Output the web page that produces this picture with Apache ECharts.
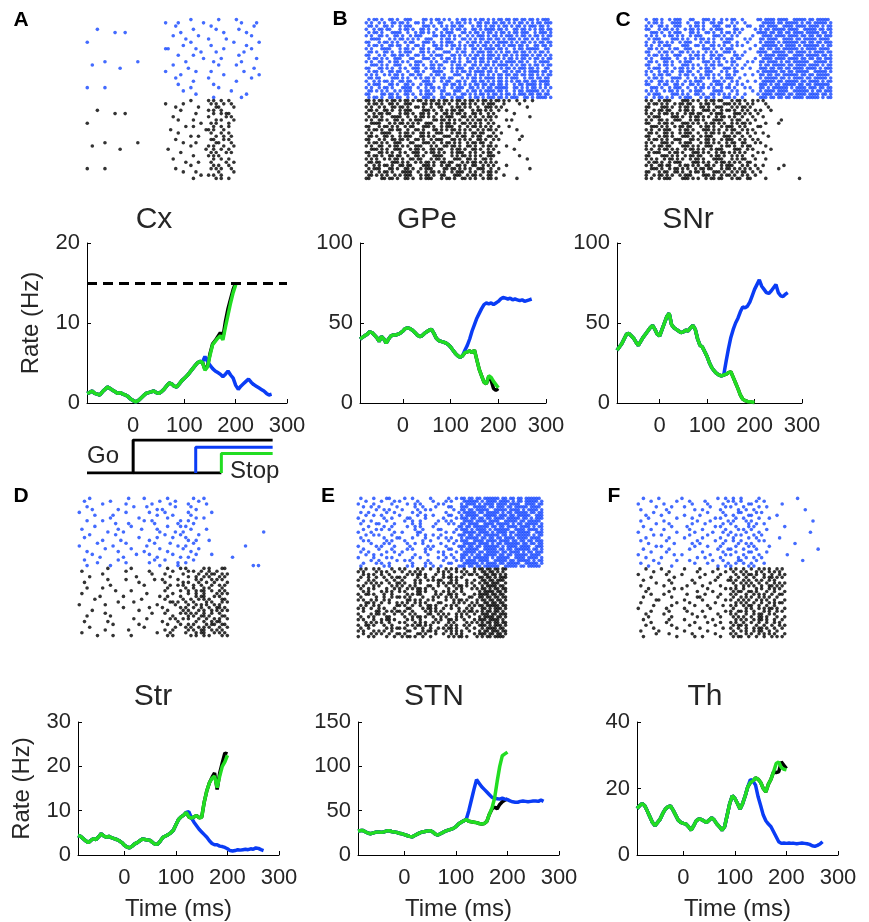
<!DOCTYPE html>
<html><head><meta charset="utf-8">
<script src="https://cdn.jsdelivr.net/npm/echarts@6/dist/echarts.min.js"></script>
<style>html,body{margin:0;padding:0;background:#fff}#c{width:869px;height:922px}</style>
</head><body><div id="c"></div>
<script>
// ---------- time base ----------
const T0 = -90, DT = 5;
const xTickValues = [0, 100, 200, 300];

// ---------- rate curves (Hz), 5 ms samples from -90 ms ----------
// shared part, then go (black), early stop (blue), late stop (green)
const cxBase = [1.2,1.3,1.5,1.2,1.1,1.0,1.4,1.7,2.0,1.8,1.6,1.4,1.2,1.3,1.1,1.0,0.8,0.5,0.3,0.15,0.3,0.6,0.9,1.2,1.3,1.4,1.5,1.3,1.2,1.4,1.7,2.1,2.5,2.4,2.1,2.0,2.4,2.8,3.1,3.4,3.8,4.2,4.6,5.0,5.2,5.1];
const cxGo = [4.2,4.6,6.2,7.4,7.8,8.3,8.8,8.2,10.2,11.8,13.0,14.2,15.0];
const cxLate = [4.1,4.5,6.0,7.3,7.7,8.1,8.4,7.9,9.5,11.0,12.5,13.8,14.8];
const cxEarly = [5.8,5.2,4.7,4.3,4.0,3.8,3.6,3.3,3.6,4.0,3.5,3.1,2.2,1.7,2.1,2.4,2.7,3.0,2.6,2.3,2.1,1.9,1.7,1.5,1.2,1.0,1.1];
const cxThreshold = 15;

const gpeBase = [40,41,42,43,44.5,44,42.5,41,38.5,41.5,40,37.5,40,42,42.5,42.5,43,43.8,45,46.5,47,46.5,45.5,44,42.5,41.5,42,43.5,44.5,45.5,46,43.5,40.5,39,38.5,38,37.5,36.5,35,33,31,29.5,28.5,29.5];
const gpeGo = [31.5,32,32.5,31.5,33,27,21,17,13,12,16.5,14,9,8,9];
const gpeLate = [31.5,32,32.5,31.5,33,27,21,17,13,12,17,16,13.5,11.5,9.5];
const gpeEarly = [33,36,40,45,49,53,56,59,61.5,62.5,62,62.5,61.5,62.5,63.5,65,66,65.5,65,65.5,64.5,65,64.5,64,64.5,63.5,64,64.5,65];

const snrBase = [33,35,37,40,43,43.5,42,40.5,38,36,38.5,41,43,45,47,48.5,46,43,42,46,50,54,56,49,47,46,45,44,44.5,45.5,45,47,48.5,46,40,36,35,32,29,25,22,20,18.5,17.5,17,17.5];
const snrGo = [18,19,19.5,16,12.5,9,5,2.5,1.5,1,0.8,0.5,0.3];
const snrLate = [18,19,19.5,16,12.5,9,5,2.5,1.5,1,0.8,0.6,0.4];
const snrEarly = [26,34,41,46,50,53,57,60,59.5,60.5,63,67,71,74,77,73,71,69,68.5,70,72,74,69,67,66.5,68,69];

const strBase = [4.4,4.2,3.7,3.2,2.8,3.3,3.7,3.5,4.1,4.8,4.3,4.0,4.2,3.9,3.7,3.5,3.2,2.8,2.2,1.8,1.6,2.0,2.5,2.8,3.2,3.6,3.5,3.4,3.3,2.8,2.4,2.5,3.2,4.0,4.3,4.6,5.0,5.6,6.8,8.0,8.6,9.0,9.6];
const strGo = [8.6,8.3,8.6,8.9,8.4,8.5,12,14.5,16.3,17.5,18.5,14.8,18.5,20.8,23,22.8];
const strLate = [8.6,8.3,8.6,8.9,8.4,8.5,12,14.5,16.3,17.3,17.8,15.2,17.8,20,21,22.5];
const strEarly = [9.8,8.4,7.4,6.6,5.8,5.2,4.6,4.0,3.2,2.6,2.3,2.3,2.0,1.9,1.7,1.4,1.0,0.9,1.0,1.2,1.1,1.2,1.3,1.2,1.4,1.3,1.6,1.5,1.2,1.0];

const stnBase = [27,27.5,27.5,26,24.5,24,25,25.8,26,25.5,26,27,27.5,26.5,26,25.5,24.5,24,23,22,21,20.5,22,23.5,25,26,26.5,27,27.5,26,23.5,22.5,24,25.5,27,28,29,30,32,35,37,38.5,40];
const stnGo = [38,37.5,37,36.5,35.5,35,35.5,38,46,52,54,52,57,60,62,63];
const stnLate = [38,37.5,37,36.5,35.5,35,35.5,38,46,53,64,83,100,112,114,116];
const stnEarly = [50,62,74,85,81,77,74,71,68,65,64,63.5,63,64,63,62.5,61,60,59.5,59.5,60.5,61,60.5,60,60.5,61,61,60.5,62,60.5];

const thBase = [14,14.8,15.5,14.8,13.2,11.5,9.8,8.8,9.8,10.8,12.5,13.8,14.5,14.8,13.5,12,10.5,9.8,9.5,9.3,8.5,7.5,8.8,10.3,10.8,10.7,10.2,9.8,10.5,11.2,10.5,9.3,8.5,7.5,8.5,12,15.5,17.8,17,15.5,13.8,15.5,17.8,20.5];
const thGo = [21.8,22.3,23.2,22.8,21.8,20,19,21.3,22.8,25,24.8,25,28,27,26];
const thLate = [21.8,22.3,23.2,22.8,21.8,20,19,21.3,22.8,25,27.5,28,26.3,25.8,25.6];
const thEarly = [22.7,22.3,21,17.5,14.8,12,10.3,9.3,8.5,7,5.5,4,3.5,3.6,3.5,3.6,3.5,3.5,3.4,3.5,3.6,3.5,3.4,3.2,2.8,2.6,2.9,3.3,4];

// ---------- Go / Stop signal timing (ms) ----------
const goOnset = 0, stopEarlyOnset = 122, stopLateOnset = 172, trialEnd = 272;

// ---------- spike rasters: one hex string per neuron, each hex digit = 4 bins of 5 ms from -90 ms ----------
const rasterA_blue = ["000000000040081000","000000010802000410","000000001000400020","080000000020100800","001100000400020100","000000002008000040","000000000100810000","800000000040002008","000000000200400100","000000018010020040","000000000004100200","000000000820000800","000000000002040010","010008000100200400","200000002000081000","000400000080000020","000000010010400200","000000000400020008","000000001000800040","000000000020001000","000000000800200000","810000000040080000","000000000200004000","000000000010000100","000000000000200400"];
const rasterA_black = ["000000000040A48000","000000010200524000","000000001008182000","080000000400A40000","001100000010258000","000000002000814000","000000000820142000","800000000004508000","000000000120248000","000000004001A20000","000000000800448000","000000000048124000","000000001000628000","010008000210184000","200000000040A22000","000400008001248000","000000000400514000","000000000020A80000","000000002000248000","000000000108412000","000000000040288000","810000001000544000","000000000210082000","000000000004A40000","000000000020148000"];
const rasterB_blue = ["5A69C35A96AD5B6DAE","A5369A4C5A9B6D5AB7","69A5C3A56C5AD6B5DA","96C5A6935A6BDA6D5B","5A3C96A5C6B5AD6E5D","A69A5C36A95D6BAD6B","3C56A9C5A6ADB5D6AE","C5A963A5C96B5EAD5B","5A6C9A356AD6B5DA6D","A3C5A69C5A6BDA5BE6","69A5C6A3965DAB6D5A","C5369A5C6AB5D6AEB5","5A9C63A5A96DB5AD6B","A65A9C5369AD6BDA5E","3A9C5A6C5A6B5EAD6B","C6A5396A5CD6AB5DA6","5A6C9A3C56BDA6B5ED","A95A6C5A39AD5B6DAB","6C3A95A6C56BDAE5B6","95A6C3A59A6D5AB6DE","5C69A5C36AB6DA5BD6","A5A3C96A5CD5BE6AD5","6A95C5A6396BDA5BEA","C369A5C5A6AD6B5DB6","5A6C93A65CB5DAE6BD"];
const rasterB_black = ["D6B5AD6B5AD6B52480","5A69C35A96A5C41000","A5369A4C5A93A80200","69A5C3A56C5A920000","96C5A6935A69404000","5A3C96A5C6A5A00100","A69A5C36A95A828000","3C56A9C5A6A9400000","C5A963A5C96A910000","5A6C9A356A95A02000","A3C5A69C5A6C480000","69A5C6A39659A00800","C5369A5C6A9A501000","5A9C63A5A96C800000","A65A9C5369A5A20000","3A9C5A6C5A69404000","C6A5396A5CA5900000","5A6C9A3C56A9C01000","A95A6C5A39A6800200","6C3A95A6C56AA00000","95A6C3A59A65420000","5C69A5C36A9C900100","A5A3C96A5CA5A00000","6A95C5A63969840000","C369A5C5A6A5A02000"];
const rasterC_blue = ["9A5C63A5641BDE7DBE","5A3C9A6C5207DBEB7D","A69C5A39A18DE7BDEB","C5A96A5C342B7DE7DB","3A5C69A5A81EDB7BED","A96A5C3A5047BDEDB7","5C3A96A5C28DE7B7DE","96A5C5A3910BD7EDB7","A5C39A6A5427EBD7EB","6A59C3A5C08DB7EBDE","C5A6A953A21E7DBD7B","5A9C5A6C340BDE7BED","A3C96A5A5827BDEDB7","69A5C3A9614DEB7E7D","C5A3A96C520B7DBDEB","5C96A5A3A48EDB7BD7","A5A6C9C53017EDBE7D","96C5A5A9A24DB7EDBE","5A3C96A5C80BED7B7D","A6A95C3A5127DBEDEB","C59A6A5C940EB7DB7E","3A5C96A5A28D7EBDDB","A96A5C3C504BDE7EB7","5C3A9A6A9217BDBDED","96A5C5A3A40EDB7BEB"];
const rasterC_black = ["A5C3A96C5A54000000","5A96C5A3A942000000","C3A5A69C5681000000","96C5A3A5A528800000","A5A96C5C3A90000000","5C3A5A96A444000000","A69C5A3C5920080000","C5A3A96A5682100000","3A96C5A5CA18000000","A5C5A3A96540000000","69A5C96A5924000000","C5A3A5C3A481000000","5A9C69A5CA50000000","A3A5C5A96628000000","96C3A9C5A582000000","A5A96A5C3940800000","5C5A3A96AA14000000","C3A96C5A5440000000","A96A5A3C5622000000","5A5C3A96A980000000","A6C5A9A5C524040000","3A5A96C5AA90100000","C59A5A3A5648000000","96A5C3A5A520000000","A5C3A96C5982001000"];
const rasterD_blue = ["080010402008800000","200800010402000000","004020081020400000","100004200410000000","040100028004000000","800020104020100000","020400020810000000","000801002004800000","104000480120000000","000210040208000000","020008002140000000","400100820010400000","001040010480000001","080200004102000000","200001020840000000","004080100024200000","010020041008000000","800400200240000080","002008010082000000","100100402010000000","040002100804100000","008040020120001000","200100044008000000","010020100240000000","100800010200000014"];
const rasterD_black = ["001008002140A18000","400020100829240000","004000084082594000","080002001024A28000","001020048205150000","2000010040A2484000","000800401289128000","104000002048A10000","000208004125928000","400000200824854000","0080400121058A0000","020000804092A18000","000104001A48514000","8020000204254A0000","000040108149268000","0400010020A2954000","002000084154920000","100800000829A18000","0000042014A24A4000","201000008204960000","000401002128598000","080000400452A24000","002010004829950000","4000000210458A8000","010408002814A14000"];
const rasterE_blue = ["4218240812DB7EDB7E","10428104287EBDEB7D","8204128140BD7BDE7B","2481024218E7DBB7DE","0128412804DBE7DEBD","48120480217DBEB7DB","1240812418BE7DDBE7","8024182042EDB7BED7","24102481287BDE7DBE","4182048214DE7BEB7D","0824128401B7EDBDEB","2148024182EBD7E7BD","84024180247DEBDBE7","1284012481DB7ED7EB","4021842128BEDB7BDE","2814204812E7BDEDB7","04281240847DEB7EDB","8142081421DB7EBDE7","2084142818BE7DB7ED","48124021427DBEDEB7","1240821048EB7DB7DE","8214048124D7EBE7BD","0481281042BDE7DBEB","21480428187EBDBE7D","4028142481DB7E7DBE"];
const rasterE_black = ["5284A1492A45B6C000","A1524A8152A4DA8000","2A4815A2485A6D4000","4925A1245A81B5C000","8A1242958A24DB8000","1549A2815A296E4000","A2854A1925A4BD8000","4A1295A4128AD6C000","2854A1A254817B4000","9A2415829A45ED8000","4125A8452A19B6C000","A5281A9425A2DB4000","1A4952A1854A6D8000","5281A49A2A15BEC000","A4A2185A4928D74000","2195A42A815AB68000","85A24A1952A4EDC000","4A1825A4A2917B4000","A25A14829A45DE8000","1548A2A5142AB6C000","9A2415A82A51D74000","4815A2495A24BD8000","A2A4185A2A916EC000","2549A1A24A85DB4000","8A125A4815A2B78000"];
const rasterF_blue = ["208040012481000200","040108201482400000","802004104218008000","010420082841200000","401002408124000040","020800104182800000","104020802418020000","080104028241100000","402001081428000008","010804204812400000","200410028214004000","042008402148200000","800102044821000010","024008101284800000","100820408412010000","401001022481400000","080204804128000400","014002108214100000","200808011842000002","041000404218200000","800240082841002000","104001208124800000","020108044182000080","408002101248400000","080400012814000000"];
const rasterF_black = ["104020810A49528000","0208010424A2950000","80104020825A494000","0402008109245A8000","200804021A52940000","0104020804A9254000","4020104082549A8000","080240102A42950000","10080104059A244000","042010208A25498000","2004018104A9520000","018020402952A44000","4001080202A4958000","020402104A59240000","8010200804295A4000","0408104029A4528000","102004010A25940000","080401208549A24000","2008200402A5A48000","041002108A49250000","1004080205A2494000","020100804925A48000","4080201004A5920000","010804020A29544000","2001024085924A8000"];

// ---------- helpers ----------
const FONT = '"Liberation Sans", Arial, Helvetica, sans-serif';
const TXT = '#262626';
const C_BLACK = '#000000', C_BLUE = '#0a3cf5', C_GREEN = '#22dd22';
const R_BLUE = '#1446ff', R_BLACK = '#000000';

const grids = [], xAxes = [], yAxes = [], series = [], graphics = [];

function curve(base, tail) {
  const pts = base.map((v, i) => [T0 + DT * i, v]);
  const split = T0 + DT * base.length;
  return pts.concat(tail.map((v, i) => [split + DT * i, v]));
}

function decodeRaster(rows, yOffset) {
  const pts = [];
  rows.forEach((s, r) => {
    const y = yOffset + rows.length - r - 0.5;
    for (let c = 0; c < s.length; c++) {
      const v = parseInt(s[c], 16) || 0;
      for (let b = 0; b < 4; b++) {
        if (v & (8 >> b)) pts.push([T0 + DT * (4 * c + b) + DT / 2, y]);
      }
    }
  });
  return pts;
}

function addRaster(rect, blueRows, blackRows) {
  const g = grids.length;
  grids.push(Object.assign({containLabel: false}, rect));
  xAxes.push({type: 'value', gridIndex: g, min: -90, max: 270, show: false});
  yAxes.push({type: 'value', gridIndex: g, min: 0, max: blueRows.length + blackRows.length, show: false});
  const common = {type: 'scatter', xAxisIndex: g, yAxisIndex: g, symbol: 'circle', symbolSize: 3.6,
    silent: true, animation: false, progressive: 0, large: false};
  series.push(Object.assign({}, common, {data: decodeRaster(blackRows, 0), itemStyle: {color: R_BLACK}}));
  series.push(Object.assign({}, common, {data: decodeRaster(blueRows, blackRows.length), itemStyle: {color: R_BLUE}}));
}

function addRate(rect, yMax, yInt, base, go, early, late, opts) {
  opts = opts || {};
  const g = grids.length;
  grids.push(Object.assign({containLabel: false}, rect));
  const axisLine = {show: true, onZero: false, lineStyle: {color: '#000', width: 1}};
  xAxes.push({
    type: 'value', gridIndex: g, min: -90, max: 300,
    axisLine: axisLine,
    axisTick: {show: true, inside: true, length: 4, customValues: xTickValues, lineStyle: {color: '#000'}},
    axisLabel: {customValues: xTickValues, fontSize: 22, color: TXT, fontFamily: FONT, margin: 12},
    splitLine: {show: false},
    name: opts.xName || '', nameLocation: 'middle', nameGap: 42,
    nameTextStyle: {fontSize: 24, color: TXT, fontFamily: FONT}
  });
  yAxes.push({
    type: 'value', gridIndex: g, min: 0, max: yMax, interval: yInt,
    axisLine: axisLine,
    axisTick: {show: true, inside: true, length: 4, lineStyle: {color: '#000'}},
    axisLabel: {fontSize: 22, color: TXT, fontFamily: FONT, margin: 7},
    splitLine: {show: false},
    name: opts.yName || '', nameLocation: 'middle', nameGap: 44, nameRotate: 90,
    nameTextStyle: {fontSize: 24, color: TXT, fontFamily: FONT}
  });
  const common = {type: 'line', xAxisIndex: g, yAxisIndex: g, symbol: 'none', showSymbol: false,
    animation: false, silent: true};
  const goSeries = Object.assign({}, common, {data: curve(base, go), z: 2, lineStyle: {color: C_BLACK, width: 3.5}});
  if (opts.threshold != null) {
    goSeries.markLine = {silent: true, symbol: 'none', label: {show: false}, animation: false,
      lineStyle: {color: '#000', width: 3, type: [10, 6]}, data: [{yAxis: opts.threshold}]};
  }
  series.push(goSeries);
  series.push(Object.assign({}, common, {data: curve(base, early), z: 3, lineStyle: {color: C_BLUE, width: 3.5}}));
  series.push(Object.assign({}, common, {data: curve(base, late), z: 4, lineStyle: {color: C_GREEN, width: 3.5}}));
}

function addSignals(rect) {
  const g = grids.length;
  grids.push(Object.assign({containLabel: false}, rect));
  xAxes.push({type: 'value', gridIndex: g, min: -90, max: 300, show: false});
  yAxes.push({type: 'value', gridIndex: g, min: 0, max: 1, show: false});
  const common = {type: 'line', xAxisIndex: g, yAxisIndex: g, symbol: 'none', animation: false, silent: true};
  series.push(Object.assign({}, common, {data: [[T0, 0], [goOnset, 0], [goOnset, 1], [trialEnd, 1]], lineStyle: {color: C_BLACK, width: 3}, z: 2}));
  series.push(Object.assign({}, common, {data: [[goOnset, 0], [stopLateOnset, 0]], lineStyle: {color: C_BLACK, width: 3}, z: 2}));
  series.push(Object.assign({}, common, {data: [[stopEarlyOnset, 0], [stopEarlyOnset, 0.78], [trialEnd, 0.78]], lineStyle: {color: C_BLUE, width: 3}, z: 3}));
  series.push(Object.assign({}, common, {data: [[stopLateOnset, 0], [stopLateOnset, 0.59], [trialEnd, 0.59]], lineStyle: {color: C_GREEN, width: 3}, z: 4}));
}

function text(str, x, y, size, opts) {
  opts = opts || {};
  graphics.push({type: 'text', x: x, y: y, silent: true, z: 10,
    style: {text: str, fill: opts.color || TXT, font: (opts.bold ? 'bold ' : '') + size + 'px ' + FONT,
      align: opts.align || 'center', textAlign: opts.align || 'center',
      verticalAlign: 'middle', textVerticalAlign: 'middle'}});
}

// ---------- rasters ----------
addRaster({left: 86, top: 18, width: 182, height: 162}, rasterA_blue, rasterA_black);
addRaster({left: 365, top: 18, width: 187, height: 162}, rasterB_blue, rasterB_black);
addRaster({left: 645, top: 18, width: 187, height: 162}, rasterC_blue, rasterC_black);
addRaster({left: 78, top: 497, width: 187, height: 140}, rasterD_blue, rasterD_black);
addRaster({left: 357, top: 497, width: 186, height: 141}, rasterE_blue, rasterE_black);
addRaster({left: 637, top: 497, width: 185, height: 141}, rasterF_blue, rasterF_black);

// ---------- rate panels ----------
addRate({left: 87, top: 243, width: 200, height: 160}, 20, 10, cxBase, cxGo, cxEarly, cxLate, {yName: 'Rate (Hz)', threshold: cxThreshold});
addRate({left: 360, top: 243, width: 186, height: 160}, 100, 50, gpeBase, gpeGo, gpeEarly, gpeLate);
addRate({left: 617, top: 243, width: 185, height: 160}, 100, 50, snrBase, snrGo, snrEarly, snrLate);
addRate({left: 78, top: 722, width: 201, height: 139}, 30, 10, strBase, strGo, strEarly, strLate, {yName: 'Rate (Hz)', xName: 'Time (ms)'});
addRate({left: 358, top: 722, width: 201, height: 139}, 150, 50, stnBase, stnGo, stnEarly, stnLate, {xName: 'Time (ms)'});
addRate({left: 637, top: 722, width: 201, height: 139}, 40, 20, thBase, thGo, thEarly, thLate, {xName: 'Time (ms)'});

addSignals({left: 87, top: 440, width: 200, height: 33});

// ---------- texts ----------
text('Cx', 154, 220, 30);
text('GPe', 427, 220, 30);
text('SNr', 688, 220, 30);
text('Str', 153, 697, 30);
text('STN', 434, 697, 30);
text('Th', 705, 697, 30);
text('Go', 87, 456, 24, {align: 'left'});
text('Stop', 230, 471, 24, {align: 'left'});
text('A', 21, 20, 21, {bold: true, color: '#000'});
text('B', 340, 19, 21, {bold: true, color: '#000'});
text('C', 623, 20, 21, {bold: true, color: '#000'});
text('D', 21, 496, 21, {bold: true, color: '#000'});
text('E', 328, 496, 21, {bold: true, color: '#000'});
text('F', 614, 496, 21, {bold: true, color: '#000'});

const chart = echarts.init(document.getElementById('c'), null, {renderer: 'canvas'});
chart.setOption({
  animation: false,
  backgroundColor: '#ffffff',
  grid: grids, xAxis: xAxes, yAxis: yAxes, series: series, graphic: graphics
});
</script>
</body></html>
